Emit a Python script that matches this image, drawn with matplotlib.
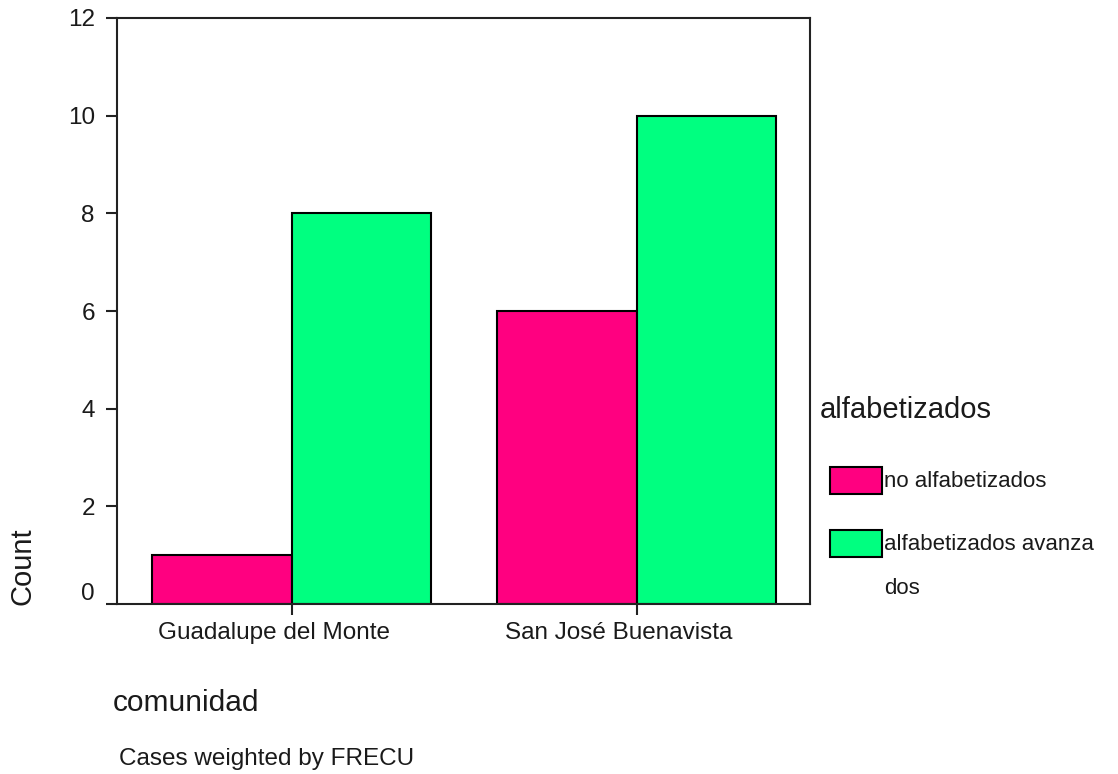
import matplotlib
matplotlib.use("Agg")
import numpy as np
from matplotlib import pyplot as plt
from matplotlib.patches import Rectangle
from matplotlib.transforms import ScaledTranslation

# Counts per community, split by literacy group
comunidades = ["Guadalupe del Monte", "San José Buenavista"]
grupos = ["no alfabetizados", "alfabetizados avanzados"]
no_alfabetizados = [1, 6]
alfabetizados_avanzados = [8, 10]
colores = ["#FF0080", "#00FF80"]
y_ticks = [0, 2, 4, 6, 8, 10, 12]

W, H = 1118, 774
plt.rcParams["font.family"] = ["Liberation Sans", "DejaVu Sans"]
fig = plt.figure(figsize=(W / 100, H / 100), dpi=100)
ax = fig.add_axes([117 / W, 1 - 604 / H, (810 - 117) / W, (604 - 18) / H])

x = np.arange(len(comunidades))
width = 0.405
series = [no_alfabetizados, alfabetizados_avanzados]
for i, vals in enumerate(series):
    offset = (i - 0.5) * width
    ax.bar(x + offset, vals, width, color=colores[i], edgecolor="black",
           linewidth=1.5, label=grupos[i])

ax.set_xlim(-0.507, 1.503)
ax.set_ylim(0, 12)
ax.set_yticks(y_ticks)
ax.set_yticklabels([str(t) for t in y_ticks])
ax.set_xticks(x)
ax.set_xticklabels(comunidades)

for s in ax.spines.values():
    s.set_linewidth(1.5)
    s.set_color("#222222")
ax.tick_params(axis="both", direction="out", length=8, width=1.5,
               color="#222222", labelsize=17.5, labelcolor="#1a1a1a")
ax.tick_params(axis="y", pad=8)
ax.tick_params(axis="x", pad=5)

# SPSS-style label placement: x labels nudged left, "0" lifted off the baseline
for lbl in ax.get_xticklabels():
    lbl.set_transform(lbl.get_transform() + ScaledTranslation(-18 / 100, 0, fig.dpi_scale_trans))
ylbls = ax.get_yticklabels()
ylbls[0].set_transform(ylbls[0].get_transform() + ScaledTranslation(0, 12 / 100, fig.dpi_scale_trans))


def px(xp, yp):
    return xp / W, 1 - yp / H


fig.text(*px(22, 566), "Count", rotation=90, ha="center", va="center",
         fontsize=21, color="#1a1a1a")
fig.text(*px(113, 703), "comunidad", ha="left", va="center",
         fontsize=21.5, color="#1a1a1a")
fig.text(*px(119, 759), "Cases weighted by FRECU", ha="left", va="center",
         fontsize=17.5, color="#1a1a1a")

# Legend drawn by hand to keep the wrapped second label
fig.text(*px(820, 410), "alfabetizados", ha="left", va="center",
         fontsize=21, color="#1a1a1a")
leg_rows = [(467, ["no alfabetizados"]), (530, ["alfabetizados avanza", "dos"])]
for (top, lines), c in zip(leg_rows, colores):
    fig.add_artist(Rectangle(px(830, top + 27), 52 / W, 27 / H,
                             transform=fig.transFigure, facecolor=c,
                             edgecolor="black", linewidth=1.5))
    for k, line in enumerate(lines):
        fig.text(*px(884, top + 15 + 43 * k), line, ha="left", va="center",
                 fontsize=16, color="#1a1a1a")

fig.savefig("out.png", dpi=100)
